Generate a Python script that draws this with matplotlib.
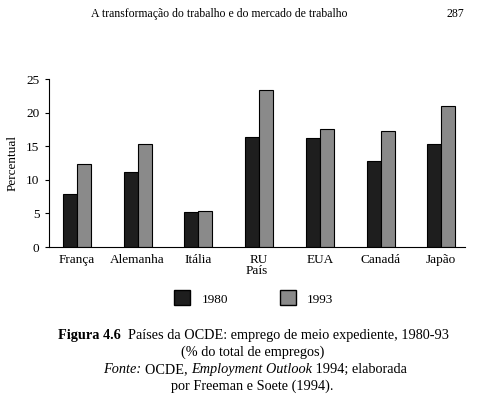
import matplotlib.pyplot as plt
import numpy as np

# dados (% do total de empregos)
paises = ['França', 'Alemanha', 'Itália', 'RU', 'EUA', 'Canadá', 'Japão']
v1980 = [7.9, 11.2, 5.2, 16.4, 16.2, 12.8, 15.4]
v1993 = [12.4, 15.3, 5.3, 23.4, 17.6, 17.3, 21.0]

plt.rcParams['font.family'] = ['Liberation Serif', 'DejaVu Serif']

fig = plt.figure(figsize=(4.82, 3.96), dpi=100)
ax = fig.add_axes([49 / 482, 149 / 396, 416 / 482, 168 / 396])

x = np.arange(len(paises))
w = 0.23
ax.bar(x - w / 2, v1980, w, color='#1e1e1e', edgecolor='black', linewidth=0.8)
ax.bar(x + w / 2, v1993, w, color='#8a8a8a', edgecolor='black', linewidth=0.8)

ax.set_xlim(-0.46, 6.39)
ax.set_ylim(0, 25)
ax.set_yticks([0, 5, 10, 15, 20, 25])
ax.set_xticks(x)
ax.set_xticklabels(paises)
ax.tick_params(axis='x', length=0, labelsize=9.5, pad=5)
ax.tick_params(axis='y', length=3, labelsize=9.5, pad=4)
for s in ['top', 'right']:
    ax.spines[s].set_visible(False)
ax.set_ylabel('Percentual', fontsize=9.5)
ax.yaxis.set_label_coords(-0.073, 0.5)
ax.set_xlabel('País', fontsize=9.5, labelpad=-1)

# legenda
fig.patches.append(plt.Rectangle((174 / 482, 1 - 305 / 396), 16 / 482, 15 / 396,
                                 transform=fig.transFigure, facecolor='#1e1e1e', edgecolor='black'))
fig.patches.append(plt.Rectangle((280 / 482, 1 - 305 / 396), 16 / 482, 15 / 396,
                                 transform=fig.transFigure, facecolor='#8a8a8a', edgecolor='black'))
fig.text(202 / 482, 1 - 300 / 396, '1980', fontsize=9.5, va='center')
fig.text(307 / 482, 1 - 300 / 396, '1993', fontsize=9.5, va='center')

# cabeçalho
fig.text(219 / 482, 1 - 14 / 396, 'A transformação do trabalho e do mercado de trabalho',
         fontsize=8.5, ha='center', va='center')
fig.text(455 / 482, 1 - 14 / 396, '287', fontsize=8.5, ha='center', va='center')

# legenda da figura: pedaços de texto colocados em sequência, na mesma linha de base
renderer = fig.canvas.get_renderer()


def linha(partes, xc, ypix, fs=10.3):
    textos = []
    total = 0
    for txt, kw in partes:
        t = fig.text(0, 1 - (ypix + 4) / 396, txt, fontsize=fs, va='baseline', **kw)
        total += t.get_window_extent(renderer).width
        textos.append(t)
    x0 = xc - total / 2
    for t in textos:
        t.set_x(x0 / 482)
        x0 += t.get_window_extent(renderer).width


linha([('Figura 4.6  ', dict(weight='bold')),
       ('Países da OCDE: emprego de meio expediente, 1980-93', {})], 253, 335)
linha([('(% do total de empregos)', {})], 253, 352)
linha([('Fonte: ', dict(style='italic')), ('OCDE, ', {}),
       ('Employment Outlook', dict(style='italic')), (' 1994; elaborada', {})], 255, 369)
linha([('por Freeman e Soete (1994).', {})], 252, 386)

fig.savefig('out.png', dpi=100)
